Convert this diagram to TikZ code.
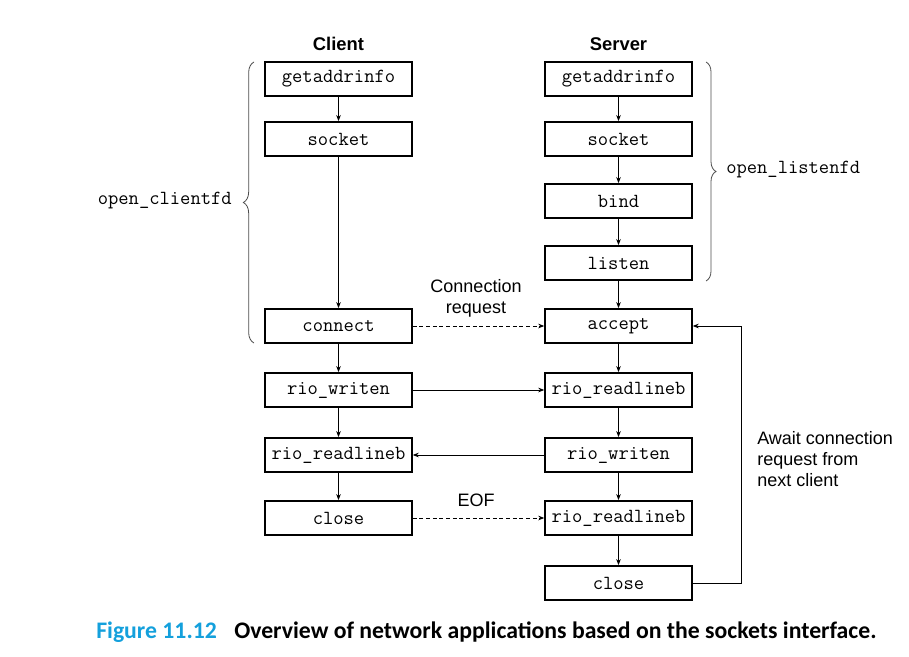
\documentclass[tikz,border=0pt]{standalone}
\usepackage{fontspec}
\setsansfont{Liberation Sans}
\newfontfamily\capfont{Carlito}
\usetikzlibrary{arrows.meta,decorations.pathreplacing}
\definecolor{capblue}{RGB}{20,160,220}
\begin{document}
\begin{tikzpicture}[x=0.75pt,y=-0.75pt,
  box/.style={draw, line width=1.4pt, minimum width=110pt, minimum height=25.5pt, inner sep=0pt,
    font=\ttfamily\fontsize{15}{18}\selectfont},
  arr/.style={-{Stealth[length=4.5pt,width=3.5pt]}, line width=0.6pt},
  dsh/.style={dash pattern=on 3pt off 2pt},
  lbl/.style={font=\sffamily\fontsize{13.5}{15.75}\selectfont, align=center, inner sep=0pt},
  ttl/.style={font=\sffamily\bfseries\fontsize{13.8}{16}\selectfont, inner sep=0pt},
  ttext/.style={font=\ttfamily\fontsize{15}{18}\selectfont, inner sep=0pt},
  brc/.style={decorate, line width=0.6pt, draw=black!70}]
\useasboundingbox (0,0) rectangle (909,656);

% titles
\node[ttl] (client) at (338.5,44) {Client};
\node[ttl] (server) at (618.5,44) {Server};

% client column
\node[box] (cg) at (338.5,79) {getaddrinfo};
\node[box] (cs) at (338.5,139) {socket};
\node[box] (cc) at (338.5,326) {connect};
\node[box] (cw) at (338.5,390) {rio\_writen};
\node[box] (cr) at (338.5,455) {rio\_readlineb};
\node[box] (ccl) at (338.5,518) {close};

% server column
\node[box] (sg) at (618.5,79) {getaddrinfo};
\node[box] (ss) at (618.5,139) {socket};
\node[box] (sb) at (618.5,201) {bind};
\node[box] (sl) at (618.5,263) {listen};
\node[box] (sa) at (618.5,326) {accept};
\node[box] (sr) at (618.5,390) {rio\_readlineb};
\node[box] (sw) at (618.5,455) {rio\_writen};
\node[box] (sr2) at (618.5,518) {rio\_readlineb};
\node[box] (scl) at (618.5,583) {close};

% vertical arrows
\draw[arr] (cg) -- (cs);
\draw[arr] (cs) -- (cc);
\draw[arr] (cc) -- (cw);
\draw[arr] (cw) -- (cr);
\draw[arr] (cr) -- (ccl);
\draw[arr] (sg) -- (ss);
\draw[arr] (ss) -- (sb);
\draw[arr] (sb) -- (sl);
\draw[arr] (sl) -- (sa);
\draw[arr] (sa) -- (sr);
\draw[arr] (sr) -- (sw);
\draw[arr] (sw) -- (sr2);
\draw[arr] (sr2) -- (scl);

% horizontal arrows
\draw[arr,dsh] (cc) -- (sa);
\draw[arr] (cw) -- (sr);
\draw[arr] (sw) -- (cr);
\draw[arr,dsh] (ccl) -- (sr2);

% loop back
\coordinate (rt) at (741.5,326);
\draw[arr] (scl.east) -- (scl.east -| rt) -- (rt) -- (sa.east);

% labels
\node[lbl] (conn) at (476,298) {Connection\\request};
\node[lbl] (eof) at (476,500) {EOF};
\node[lbl, align=left, anchor=west] (await) at (757,459) {Await connection\\request from\\next client};

% braces
\draw[brc, decoration={brace, amplitude=8pt}] (254,343) -- (254,62);
\draw[brc, decoration={brace, amplitude=7.5pt}] (706,62) -- (706,281);
\node[ttext, anchor=east] (ocfd) at (232,201) {open\_clientfd};
\node[ttext, anchor=west] (olfd) at (726,170) {open\_listenfd};

% caption
\node[anchor=west, inner sep=0pt, font=\capfont\bfseries\fontsize{17.8}{21}\selectfont] (cap) at (96,632)
  {\textcolor{capblue}{Figure 11.12}\hspace{13pt}Overview of network applications based on the sockets interface.};
\end{tikzpicture}
\end{document}
